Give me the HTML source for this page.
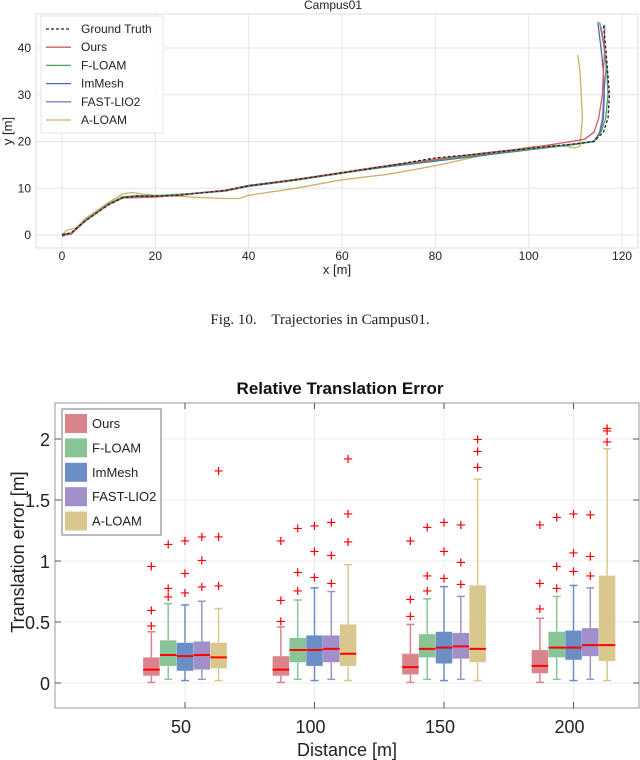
<!DOCTYPE html>
<html><head><meta charset="utf-8"><style>
body{margin:0;background:#fff;width:640px;height:760px;overflow:hidden}
svg{display:block}
</style></head><body>
<svg id="s" width="640" height="760" xmlns="http://www.w3.org/2000/svg" font-family="Liberation Sans, sans-serif">
<text x="320" y="324" font-family="Liberation Serif, serif" font-size="15" text-anchor="middle" fill="#222" style="white-space:pre">Fig. 10.    Trajectories in Campus01.</text>
<g id="topg"></g>
<g id="botg"></g>
</svg>
<script>
// ---------- Trajectory data ----------
const trajNames=["Ground Truth","Ours","F-LOAM","ImMesh","FAST-LIO2","A-LOAM"];
const trajColors=["#222","#d45a62","#4f9e5f","#4a68b8","#8a7ec4","#c9b06c"];
const gtX=[0,2,5,10,13,16,20,25,30,35,40,50,60,70,80,90,100,110,114,116,117,117.3,117,116.5,116];
const gtY=[0,0.5,3,6.5,8,8.3,8.3,8.5,9,9.5,10.5,11.8,13.3,14.8,16.5,17.4,18.5,19.5,20,22,25,30,34,40,45];
const oursX=[0,2,5,10,13,16,20,25,30,35,40,50,60,70,80,90,100,108,112,114,115,115.8,116,116.3,115.5];
const oursY=[-0.3,0.3,3,6.5,7.9,8,8.1,8.5,9,9.6,10.5,11.9,13.4,14.9,16.2,17.5,18.6,19.8,20.5,22,25,30,35,40,44.5];
const floamX=[0,2,5,10,13,16,20,25,30,35,40,50,60,70,80,90,100,110,114,115.5,116.5,117,116.7,116,115.2];
const floamY=[0.2,0.4,3.2,6.7,8.2,8.3,8.4,8.7,9,9.4,10.4,11.7,13.2,14.7,16,17.2,18.3,19.4,20,22,25,30,36,41,45.5];
const immeshX=[0,2,5,10,13,16,20,25,30,35,40,50,60,70,80,90,100,110,114,115.3,116,116.2,116,115.5,114.8];
const immeshY=[0,0.2,3,6.6,8.1,8.4,8.3,8.6,9.1,9.5,10.6,11.8,13.3,14.6,15.8,17,18.2,19.4,20.1,22,25,30,35,40,45.5];
const fastX=[0,2,5,10,13,16,20,25,30,35,40,50,60,70,80,90,100,110,114,115.2,115.8,116.1,116.6,116.2,116.3];
const fastY=[0,0.3,3.1,6.6,8,8.3,8.3,8.6,9.1,9.6,10.6,11.9,13.3,14.7,15.9,17.1,18.3,19.5,20,22,25,30,36,40,45];
const aloamX=[0,1,3,5,10,13,15,17,20,25,30,35,38,40,50,60,70,80,90,100,105,108,110,111,111.5,111,110.5];
const aloamY=[0,1,1.5,3.5,7,8.8,9.1,8.8,8.5,8.3,8,7.8,7.8,8.5,10,11.8,13,14.8,17,18.8,19.2,19,18.6,19,25,35,38.5];
const trajXs=[gtX,oursX,floamX,immeshX,fastX,aloamX];
const trajYs=[gtY,oursY,floamY,immeshY,fastY,aloamY];
const xTicks=[0,20,40,60,80,100,120];
const yTicks=[0,10,20,30,40];

// ---------- Boxplot data ----------
const distances=[50,100,150,200];
const methods=["Ours","F-LOAM","ImMesh","FAST-LIO2","A-LOAM"];
const boxColors=["#d9848a","#88c495","#6b8ec6","#a08fc8","#d9c88e"];
const oursStats=[[0.005,0.06,0.11,0.21,0.42],[0.005,0.06,0.11,0.22,0.46],[0.005,0.07,0.13,0.24,0.48],[0.005,0.08,0.14,0.27,0.53]];
const floamStats=[[0.03,0.14,0.23,0.35,0.65],[0.03,0.17,0.27,0.37,0.68],[0.03,0.21,0.28,0.40,0.69],[0.03,0.21,0.29,0.42,0.71]];
const immeshStats=[[0.02,0.10,0.22,0.33,0.64],[0.02,0.14,0.27,0.39,0.78],[0.02,0.16,0.29,0.42,0.79],[0.02,0.19,0.29,0.43,0.80]];
const fastStats=[[0.03,0.11,0.23,0.34,0.67],[0.03,0.17,0.28,0.39,0.75],[0.03,0.20,0.30,0.41,0.71],[0.03,0.22,0.31,0.45,0.78]];
const aloamStats=[[0.02,0.12,0.21,0.33,0.61],[0.02,0.14,0.24,0.48,0.97],[0.02,0.17,0.28,0.80,1.67],[0.02,0.18,0.31,0.88,1.92]];
const oursOut=[[0.47,0.6,0.96],[0.51,0.68,1.17],[0.55,0.69,1.17],[0.61,0.82,1.30]];
const floamOut=[[0.71,0.78,1.14],[0.76,0.91,1.27],[0.76,0.88,1.28],[0.78,0.96,1.36]];
const immeshOut=[[0.74,0.9,1.17],[0.87,1.08,1.29],[0.86,1.08,1.32],[0.92,1.07,1.39]];
const fastOut=[[0.79,1.01,1.2],[0.82,1.05,1.32],[0.81,0.99,1.30],[0.88,1.04,1.38]];
const aloamOut=[[0.8,1.2,1.74],[1.16,1.39,1.84],[1.77,1.9,2.0],[1.98,2.07,2.09]];
const allStats=[oursStats,floamStats,immeshStats,fastStats,aloamStats];
const allOut=[oursOut,floamOut,immeshOut,fastOut,aloamOut];
const bTicks=[0,0.5,1,1.5,2];
const bTickLabels=["0","0.5","1","1.5","2"];

const NS="http://www.w3.org/2000/svg";
function mk(p,t,a,txt){const e=document.createElementNS(NS,t);for(const k in a)e.setAttribute(k,a[k]);if(txt!=null)e.textContent=txt;p.appendChild(e);return e;}

// ---------- Top chart ----------
const topG=document.getElementById('topg');
const tx=v=>62+v*4.667, ty=v=>235-v*4.675;
const L=36,R=638,T=14,B=248;
let e=mk(topG,'rect',{x:L,y:T,width:R-L,height:B-T,fill:'#fff',stroke:'#ddd'});

xTicks.forEach(v=>{
 e=mk(topG,'line',{x1:tx(v),x2:tx(v),y1:T,y2:B,stroke:'#e4e4e4'});
 
 e=mk(topG,'text',{x:tx(v),y:260,'font-size':12,'text-anchor':'middle',fill:'#222'},String(v));
 
});
yTicks.forEach(v=>{
 e=mk(topG,'line',{x1:L,x2:R,y1:ty(v),y2:ty(v),stroke:'#e4e4e4'});
 
 e=mk(topG,'text',{x:31,y:ty(v)+4,'font-size':12,'text-anchor':'end',fill:'#222'},String(v));
 
});
e=mk(topG,'text',{x:333,y:9,'font-size':12,'text-anchor':'middle',fill:'#222'},'Campus01');

e=mk(topG,'text',{x:337,y:274,'font-size':13,'text-anchor':'middle',fill:'#222'},'x [m]');

e=mk(topG,'text',{x:12,y:131,'font-size':13,'text-anchor':'middle',fill:'#222',transform:'rotate(-90 12 131)'},'y [m]');

for(let i=trajXs.length-1;i>=0;i--){
 const pts=trajXs[i].map((x,j)=>tx(x).toFixed(1)+','+ty(trajYs[i][j]).toFixed(1)).join(' ');
 e=mk(topG,'polyline',{points:pts,fill:'none',stroke:trajColors[i],'stroke-width':1.3,'stroke-dasharray':i==0?'3,2':'none'});
 
 
}
e=mk(topG,'rect',{x:41,y:16,width:122,height:117,fill:'#fff','fill-opacity':0.9,stroke:'#e6e6e6'});

trajNames.forEach((n,i)=>{
 const y=29+i*18.2;
 e=mk(topG,'line',{x1:46,x2:71,y1:y,y2:y,stroke:trajColors[i],'stroke-width':1.3,'stroke-dasharray':i==0?'3,2':'none'});
 
 e=mk(topG,'text',{x:81,y:y+4,'font-size':12,fill:'#222'},n);
 
});

// ---------- Bottom chart ----------
const botG=document.getElementById('botg');
const bx=d=>185+(d-50)*2.59, by=v=>683-v*122;
const bL=55,bR=639,bT=403,bB=708;
e=mk(botG,'rect',{x:bL,y:bT,width:bR-bL,height:bB-bT,fill:'#fff',stroke:'#999'});

bTicks.forEach((v,i)=>{
 e=mk(botG,'line',{x1:bL,x2:bR,y1:by(v),y2:by(v),stroke:'#ececec'});
 
 mk(botG,'line',{x1:bL,x2:bL+6,y1:by(v),y2:by(v),stroke:'#555'});
 mk(botG,'line',{x1:bR-6,x2:bR,y1:by(v),y2:by(v),stroke:'#555'});
 e=mk(botG,'text',{x:50,y:by(v)+7,'font-size':18,'text-anchor':'end',fill:'#222'},bTickLabels[i]);
 
});
distances.forEach(d=>{
 e=mk(botG,'line',{x1:bx(d),x2:bx(d),y1:bT,y2:bB,stroke:'#ececec'});
 
 mk(botG,'line',{x1:bx(d),x2:bx(d),y1:bT,y2:bT+6,stroke:'#555'});
 mk(botG,'line',{x1:bx(d),x2:bx(d),y1:bB-6,y2:bB,stroke:'#555'});
 e=mk(botG,'text',{x:bx(d)-4,y:733,'font-size':18,'text-anchor':'middle',fill:'#222'},String(d));
 
});
e=mk(botG,'text',{x:340,y:394,'font-size':17,'font-weight':'bold','text-anchor':'middle',fill:'#111'},'Relative Translation Error');

e=mk(botG,'text',{x:347,y:756,'font-size':18,'text-anchor':'middle',fill:'#222'},'Distance [m]');

e=mk(botG,'text',{x:24,y:552,'font-size':18,'text-anchor':'middle',fill:'#222',transform:'rotate(-90 24 552)'},'Translation error [m]');

const bw=16.5, off=16.8;
methods.forEach((m,mi)=>{
 distances.forEach((d,di)=>{
  const s=allStats[mi][di], c=bx(d)+(mi-2)*off, col=boxColors[mi];
  const g=mk(botG,'g',{});
  
  
  mk(g,'line',{x1:c,x2:c,y1:by(s[0]),y2:by(s[1]),stroke:col,'stroke-width':1.5});
  mk(g,'line',{x1:c,x2:c,y1:by(s[3]),y2:by(s[4]),stroke:col,'stroke-width':1.5});
  mk(g,'line',{x1:c-4,x2:c+4,y1:by(s[0]),y2:by(s[0]),stroke:col,'stroke-width':1.5});
  mk(g,'line',{x1:c-4,x2:c+4,y1:by(s[4]),y2:by(s[4]),stroke:col,'stroke-width':1.5});
  mk(g,'rect',{x:c-bw/2,y:by(s[3]),width:bw,height:by(s[1])-by(s[3]),fill:col});
  mk(g,'line',{x1:c-bw/2,x2:c+bw/2,y1:by(s[2]),y2:by(s[2]),stroke:'#f00','stroke-width':2});
  allOut[mi][di].forEach(v=>{
   const o=mk(botG,'text',{x:c,y:by(v)+6,'font-size':17,'text-anchor':'middle',fill:'#f00'},'+');
   
   
  });
 });
});
e=mk(botG,'rect',{x:62,y:409,width:99,height:126,fill:'#fff',stroke:'#777'});

methods.forEach((m,i)=>{
 const y=414+i*24.4;
 e=mk(botG,'rect',{x:65,y:y,width:22,height:19,fill:boxColors[i]});
 
 e=mk(botG,'text',{x:92,y:y+14,'font-size':13,fill:'#222'},m);
 
});
</script>
</body></html>
